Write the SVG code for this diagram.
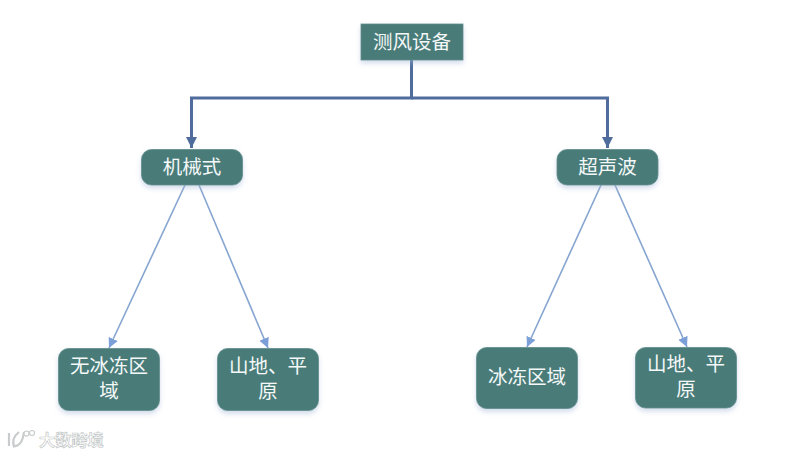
<svg xmlns="http://www.w3.org/2000/svg" width="790" height="455" viewBox="0 0 790 455">
<style>
.box{fill:#4a7b79;stroke:#5f8d8b;stroke-width:.8;filter:url(#sh)}
.t{font-family:"Liberation Sans","Noto Sans CJK SC",sans-serif;font-size:19.500px;fill:#f4f8f8;text-anchor:middle}
.main{fill:none;stroke:#4f6c9c;stroke-width:3}
.sub{fill:none;stroke:#86a5d0;stroke-width:1.6}
.wm{font-family:"Liberation Sans","Noto Sans CJK SC",sans-serif;font-size:16.200px;font-weight:700;fill:#fff;stroke:#c4c8c8;stroke-width:.7;text-anchor:start}
</style>
<defs>
<filter id="sh" x="-15%" y="-25%" width="130%" height="160%"><feDropShadow dx="0" dy="3" stdDeviation="2.500" flood-color="#9db3d4" flood-opacity=".45"/></filter>
<marker id="am" markerUnits="userSpaceOnUse" markerWidth="12" markerHeight="11" refX="11" refY="5.500" orient="auto"><path d="M0 0L11 5.500L0 11z" fill="#4f6c9c"/></marker>
<marker id="as" markerUnits="userSpaceOnUse" markerWidth="11" markerHeight="10" refX="10" refY="5" orient="auto"><path d="M0 0L10 5L0 10z" fill="#7c9fd8"/></marker>
</defs>
<rect width="790" height="455" fill="#fff"/>
<g id="connectors">
<path class="main" d="M411.500 60V98H191.500V148" marker-end="url(#am)"/>
<path class="main" d="M411.500 98H607.500V148" marker-end="url(#am)"/>
<path class="sub" d="M185 185L109 348" marker-end="url(#as)"/>
<path class="sub" d="M199 185L268 348" marker-end="url(#as)"/>
<path class="sub" d="M601 185L527 347" marker-end="url(#as)"/>
<path class="sub" d="M615 185L687 347" marker-end="url(#as)"/>
</g>
<g id="n0"><rect class="box" x="361" y="24" width="102" height="36"/><text class="t" x="412" y="49">测风设备</text></g>
<g id="n1"><rect class="box" x="141.500" y="149.500" width="101" height="35.500" rx="10"/><text class="t" x="192" y="174">机械式</text></g>
<g id="n2"><rect class="box" x="557" y="149.500" width="101" height="35.500" rx="10"/><text class="t" x="607.500" y="174">超声波</text></g>
<g id="n3"><rect class="box" x="58.500" y="348.500" width="101" height="62" rx="10"/><text class="t"><tspan x="109" y="373">无冰冻区</tspan><tspan x="109" y="398">域</tspan></text></g>
<g id="n4"><rect class="box" x="217.500" y="348.500" width="101" height="62" rx="10"/><text class="t"><tspan x="268" y="373">山地、平</tspan><tspan x="268" y="398">原</tspan></text></g>
<g id="n5"><rect class="box" x="476.500" y="347.500" width="101" height="61" rx="10"/><text class="t" x="527" y="384">冰冻区域</text></g>
<g id="n6"><rect class="box" x="635.500" y="347.500" width="101" height="60.500" rx="10"/><text class="t"><tspan x="686" y="371">山地、平</tspan><tspan x="686" y="396">原</tspan></text></g>
<g id="watermark">
<path d="M9 433L9 446M24 432C23 441 19 446 14 446.500C12 441 14 436 19 432" fill="none" stroke="#c9cccc" stroke-width="2.200"/>
<circle cx="26.500" cy="433.500" r="2.500" fill="#fff" stroke="#c9cccc" stroke-width="1.200"/><circle cx="32" cy="433" r="2.500" fill="#fff" stroke="#c9cccc" stroke-width="1.200"/>
<text class="wm" x="39" y="446">大数跨境</text>
</g>
</svg>
